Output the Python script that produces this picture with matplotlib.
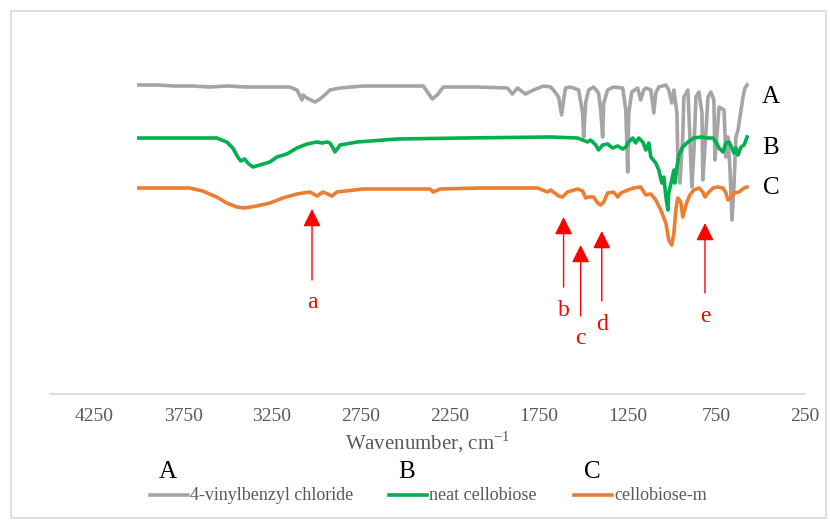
import matplotlib.pyplot as plt
from matplotlib.lines import Line2D
from matplotlib.patches import Rectangle

plt.rcParams['font.family'] = ['Liberation Serif', 'DejaVu Serif']
plt.rcParams['mathtext.fontset'] = 'custom'
plt.rcParams['mathtext.rm'] = 'Liberation Serif'

# spectrum A : 4-vinylbenzyl chloride (offset, arbitrary units)
wn_a = [4000, 3900, 3800, 3700, 3600, 3500, 3400, 3300, 3206, 3150, 3110, 3082, 3076,
        3054, 3009, 2980, 2941, 2924, 2867, 2738, 2399, 2371, 2348, 2320, 2286, 2100,
        1925, 1897, 1869, 1824, 1778, 1722, 1682, 1666, 1637, 1620, 1609, 1598, 1570,
        1524, 1502, 1496, 1485, 1468, 1440, 1412, 1400, 1389, 1383, 1361, 1327, 1276,
        1259, 1248, 1242, 1225, 1192, 1175, 1158, 1146, 1118, 1101, 1090, 1073, 1033,
        1017, 1000, 988, 971, 966, 954, 938, 932, 909, 898, 887, 876, 864, 847, 830,
        825, 813, 796, 780, 763, 757, 746, 734, 706, 695, 684, 672, 661, 650, 639, 627,
        616, 599, 588, 576]
t_a = [3.09, 3.09, 3.08, 3.08, 3.07, 3.08, 3.07, 3.07, 3.07, 3.07, 3.04, 2.94, 2.99,
       2.96, 2.92, 2.95, 3.01, 3.04, 3.06, 3.08, 3.08, 3.01, 2.95, 2.99, 3.07, 3.07,
       3.06, 3.00, 3.06, 3.00, 3.04, 3.08, 3.07, 3.04, 2.97, 2.79, 2.94, 3.06, 3.07,
       3.04, 2.81, 2.57, 2.91, 3.04, 3.07, 3.01, 2.84, 2.57, 2.91, 3.04, 3.07, 3.06,
       2.84, 2.22, 2.81, 3.02, 3.06, 2.94, 3.04, 3.06, 3.04, 2.81, 3.01, 3.07, 3.09,
       3.04, 2.91, 3.04, 2.81, 2.37, 2.11, 2.57, 2.97, 3.04, 2.57, 2.07, 2.41, 2.97,
       3.02, 2.81, 2.14, 2.47, 2.97, 3.02, 2.94, 2.34, 2.57, 2.87, 2.84, 2.37, 2.57,
       2.24, 1.74, 2.07, 2.57, 2.64, 2.77, 2.97, 3.06, 3.09]

# spectrum B : neat cellobiose
wn_b = [4000, 3700, 3562, 3505, 3471, 3443, 3426, 3404, 3387, 3358, 3319, 3262, 3223,
        3167, 3110, 3054, 2997, 2969, 2941, 2924, 2907, 2896, 2867, 2772, 2546, 2173,
        1682, 1530, 1502, 1474, 1457, 1428, 1412, 1389, 1361, 1333, 1304, 1276, 1259,
        1242, 1220, 1203, 1186, 1163, 1146, 1129, 1118, 1090, 1073, 1056, 1045, 1033,
        1022, 1017, 1000, 988, 983, 971, 960, 938, 909, 876, 836, 796, 768, 751, 734,
        712, 695, 678, 661, 650, 639, 627, 610, 593, 576]
t_b = [2.56, 2.56, 2.56, 2.52, 2.46, 2.37, 2.33, 2.35, 2.31, 2.27, 2.29, 2.32, 2.37,
       2.40, 2.46, 2.50, 2.52, 2.51, 2.52, 2.51, 2.46, 2.42, 2.49, 2.52, 2.55, 2.56,
       2.57, 2.56, 2.54, 2.52, 2.54, 2.49, 2.44, 2.49, 2.50, 2.46, 2.48, 2.45, 2.47,
       2.52, 2.56, 2.51, 2.56, 2.52, 2.44, 2.51, 2.37, 2.31, 2.24, 2.11, 2.17, 1.97,
       1.84, 2.01, 2.14, 2.24, 2.11, 2.27, 2.39, 2.47, 2.52, 2.56, 2.57, 2.56, 2.56,
       2.52, 2.46, 2.42, 2.51, 2.52, 2.46, 2.41, 2.46, 2.39, 2.47, 2.49, 2.57]

# spectrum C : cellobiose-m
wn_c = [4000, 3714, 3641, 3562, 3505, 3449, 3404, 3336, 3262, 3189, 3110, 3037, 2997,
        2963, 2913, 2884, 2738, 2360, 2343, 2303, 2077, 1756, 1699, 1682, 1637, 1615,
        1587, 1530, 1502, 1485, 1468, 1440, 1417, 1400, 1383, 1361, 1327, 1304, 1287,
        1248, 1214, 1175, 1146, 1118, 1090, 1062, 1033, 1017, 1000, 988, 977, 966, 949,
        938, 932, 915, 898, 876, 847, 825, 813, 796, 768, 740, 712, 695, 684, 667, 650,
        622, 593, 576]
t_c = [2.06, 2.06, 2.03, 1.97, 1.91, 1.87, 1.86, 1.88, 1.91, 1.96, 2.00, 2.02, 1.98,
       2.02, 1.98, 2.02, 2.05, 2.05, 2.02, 2.05, 2.06, 2.06, 2.02, 2.04, 1.98, 1.97,
       2.02, 2.05, 2.03, 1.96, 1.97, 1.97, 1.91, 1.89, 1.92, 2.01, 2.02, 1.97, 2.01,
       2.04, 2.06, 2.07, 1.99, 2.00, 1.94, 1.84, 1.71, 1.54, 1.49, 1.61, 1.84, 1.96,
       1.92, 1.77, 1.81, 1.92, 1.99, 2.04, 2.06, 2.02, 1.97, 2.01, 2.06, 2.07, 2.06,
       2.01, 1.94, 1.97, 2.01, 2.02, 2.06, 2.07]

series_names = ['4-vinylbenzyl chloride', 'neat cellobiose', 'cellobiose-m']
series_letters = ['A', 'B', 'C']
colors = ['#a5a5a5', '#00b050', '#ed7d31']

# marked bands (arrows a-e)
arrow_labels = ['a', 'b', 'c', 'd', 'e']
arrow_wn = [3025, 1609, 1513, 1394, 813]
arrow_tip = [1.85, 1.77, 1.49, 1.63, 1.71]
arrow_tail = [1.14, 1.07, 0.78, 0.93, 1.01]

xticks = [4250, 3750, 3250, 2750, 2250, 1750, 1250, 750, 250]

W, H = 830, 521


def fx(px):
    return px / W


def fy(py):
    return 1 - py / H


fig = plt.figure(figsize=(W / 100, H / 100), dpi=100)
fig.patches.append(Rectangle((fx(11), fy(518)), fx(815), 507 / H, transform=fig.transFigure,
                             fill=False, edgecolor='#d9d9d9', lw=1.2))

ax = fig.add_axes([fx(50), fy(394), fx(755), 370 / H])
for wn, t, c in zip([wn_a, wn_b, wn_c], [t_a, t_b, t_c], colors):
    ax.plot(wn, t, color=c, lw=2.6, solid_joinstyle='round')

ax.set_xlim(4500, 250)
ax.set_ylim(0, 3.70)
ax.set_xticks(xticks)
ax.set_xticklabels([str(v) for v in xticks], fontsize=14, color='#595959')
ax.tick_params(axis='x', length=0, pad=10)
ax.set_yticks([])
for s in ['top', 'right', 'left']:
    ax.spines[s].set_visible(False)
ax.spines['bottom'].set_color('#d9d9d9')
ax.spines['bottom'].set_linewidth(1.3)
ax.set_xlabel(r'Wavenumber, cm$^{\mathrm{-1}}$', fontsize=15, color='#595959', labelpad=3)

for letter, y in zip(series_letters, [2.97, 2.46, 2.06]):
    ax.text(441, y, letter, fontsize=18, ha='center', va='center')

for lab, wn, tip, tail in zip(arrow_labels, arrow_wn, arrow_tip, arrow_tail):
    ax.annotate('', xy=(wn, tip), xytext=(wn, tail),
                arrowprops=dict(arrowstyle='-|>,head_length=0.6,head_width=0.3',
                                color='#ff0000', lw=1, mutation_scale=18,
                                shrinkA=0, shrinkB=0))
    ax.text(wn, tail - 0.23, lab, fontsize=17, color='#ff0000', ha='center', va='center')

# legend drawn by hand: big letter above each entry
leg_line_x = [150, 389, 574]
for x0, letter, name, c in zip(leg_line_x, series_letters, series_names, colors):
    fig.add_artist(Line2D([fx(x0), fx(x0 + 38)], [fy(495), fy(495)],
                          color=c, lw=2.6, transform=fig.transFigure))
    fig.text(fx(x0 + 40), fy(495), name, fontsize=13, color='#595959',
             ha='left', va='center')
    fig.text(fx(x0 + 18), fy(472), letter, fontsize=18, ha='center', va='center')

fig.savefig('out.png', dpi=100)
